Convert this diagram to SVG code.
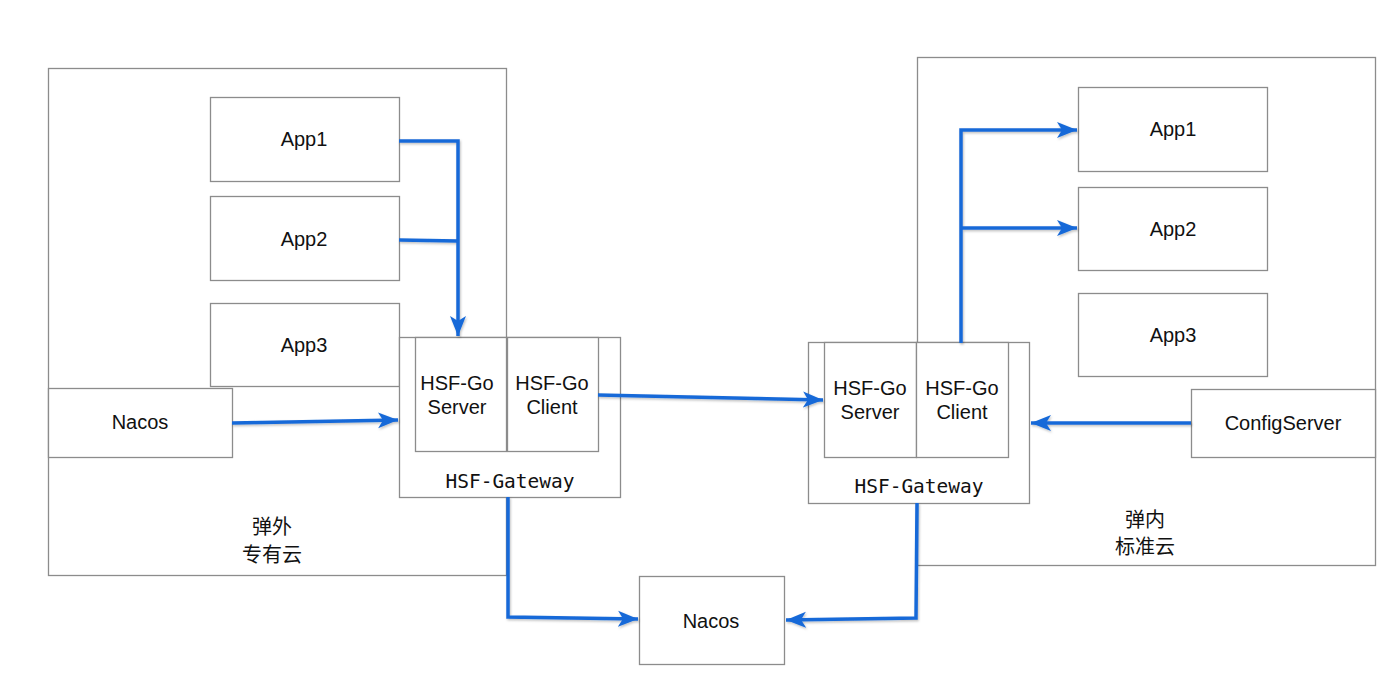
<svg xmlns="http://www.w3.org/2000/svg" width="1400" height="686" viewBox="0 0 1400 686">
<style>
.box{fill:#fff;stroke:#8c8c8c;stroke-width:1.3}
.zone{fill:none;stroke:#8c8c8c;stroke-width:1.3}
.t{font-family:"Liberation Sans",Arial,sans-serif;font-size:20px;fill:#111;text-anchor:middle}
.m{font-family:"DejaVu Sans Mono","Liberation Mono",monospace;font-size:19.5px;fill:#111;text-anchor:middle}
.c{font-family:"Liberation Sans","Noto Sans CJK SC",sans-serif;font-size:20px;fill:#111;text-anchor:middle}
.a{fill:none;stroke:#1769d8;stroke-width:3.5;stroke-linejoin:miter}
</style>
<defs>
<marker id="ah" markerUnits="userSpaceOnUse" markerWidth="22" markerHeight="18" refX="20" refY="9" orient="auto">
<path d="M0,1 L20,9 L0,17 L5,9 Z" fill="#1769d8"/>
</marker>
<filter id="sh" x="-10%" y="-10%" width="120%" height="120%">
<feDropShadow dx="1" dy="1.5" stdDeviation="1.2" flood-color="#000" flood-opacity="0.25"/>
</filter>
</defs>
<rect width="1400" height="686" fill="#fff"/>
<g id="zone-left">
<rect class="zone" x="48.5" y="68.5" width="458" height="507"/>
<text class="c" x="272" y="534">弹外</text>
<text class="c" x="272" y="562">专有云</text>
</g>
<g id="zone-right">
<rect class="zone" x="917.5" y="57.5" width="458" height="508"/>
<text class="c" x="1145" y="527">弹内</text>
<text class="c" x="1145" y="554">标准云</text>
</g>
<g id="l-app1"><rect class="box" x="210.5" y="97.5" width="189" height="84"/><text class="t" x="304" y="146">App1</text></g>
<g id="l-app2"><rect class="box" x="210.5" y="196.5" width="189" height="84"/><text class="t" x="304" y="246">App2</text></g>
<g id="l-app3"><rect class="box" x="210.5" y="303.5" width="189" height="83"/><text class="t" x="304" y="352">App3</text></g>
<g id="l-nacos"><rect class="box" x="48.5" y="388.5" width="184" height="69"/><text class="t" x="140" y="429">Nacos</text></g>
<g id="l-gateway">
<rect class="box" x="399.5" y="337.5" width="221" height="160"/>
<rect class="box" x="415.5" y="337.5" width="91" height="114"/>
<rect class="box" x="507.5" y="337.5" width="91" height="114"/>
<text class="t" x="457" y="390">HSF-Go</text>
<text class="t" x="457" y="414">Server</text>
<text class="t" x="552" y="390">HSF-Go</text>
<text class="t" x="552" y="414">Client</text>
<text class="m" x="510" y="488">HSF-Gateway</text>
</g>
<g id="r-app1"><rect class="box" x="1078.5" y="87.5" width="189" height="84"/><text class="t" x="1173" y="136">App1</text></g>
<g id="r-app2"><rect class="box" x="1078.5" y="187.5" width="189" height="83"/><text class="t" x="1173" y="236">App2</text></g>
<g id="r-app3"><rect class="box" x="1078.5" y="293.5" width="189" height="83"/><text class="t" x="1173" y="342">App3</text></g>
<g id="r-config"><rect class="box" x="1191.5" y="389.5" width="184" height="68"/><text class="t" x="1283" y="430">ConfigServer</text></g>
<g id="r-gateway">
<rect class="box" x="808.5" y="342.5" width="221" height="161"/>
<rect class="box" x="824.5" y="342.5" width="92" height="115"/>
<rect class="box" x="916.5" y="342.5" width="92" height="115"/>
<text class="t" x="870" y="395">HSF-Go</text>
<text class="t" x="870" y="419">Server</text>
<text class="t" x="962" y="395">HSF-Go</text>
<text class="t" x="962" y="419">Client</text>
<text class="m" x="919" y="493">HSF-Gateway</text>
</g>
<g id="b-nacos"><rect class="box" x="639.5" y="576.5" width="145" height="88"/><text class="t" x="711" y="628">Nacos</text></g>
<g id="connectors" filter="url(#sh)">
<path class="a" d="M399,141 L458,141 L458,336" marker-end="url(#ah)"/>
<path class="a" d="M399,240 L458,241"/>
<path class="a" d="M232,423 L398,420" marker-end="url(#ah)"/>
<path class="a" d="M598,395 L823,400" marker-end="url(#ah)"/>
<path class="a" d="M961,343 L961,130 L1077,130" marker-end="url(#ah)"/>
<path class="a" d="M961,228 L1077,228" marker-end="url(#ah)"/>
<path class="a" d="M1191,423 L1031,423" marker-end="url(#ah)"/>
<path class="a" d="M508,497 L508,617 L638,619" marker-end="url(#ah)"/>
<path class="a" d="M917,503 L916,618 L786,620" marker-end="url(#ah)"/>
</g>
</svg>
